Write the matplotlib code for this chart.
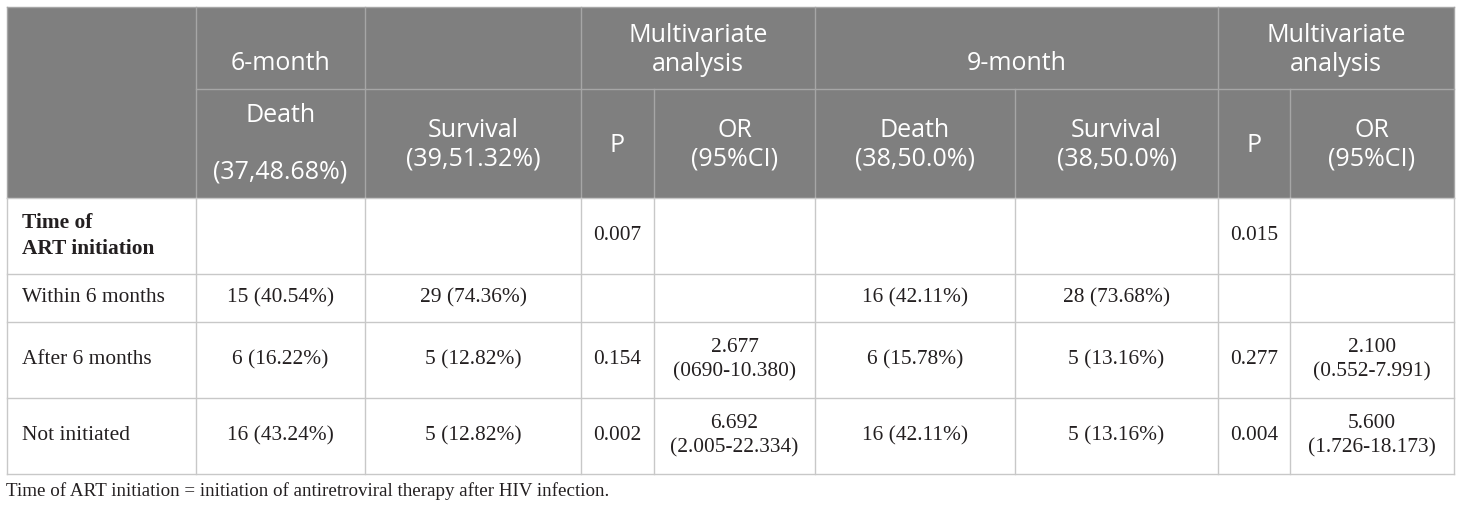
import matplotlib
matplotlib.use("Agg")
import matplotlib.pyplot as plt
from matplotlib.patches import Rectangle

# column edges (px) and row edges (px)
col_x = [7, 196, 365, 581, 654, 815, 1015, 1218, 1290, 1454]
row_y = [7, 89, 198, 274, 322, 398, 474]

row_labels = ["Time of\nART initiation", "Within 6 months", "After 6 months", "Not initiated"]
death_6 = ["", "15 (40.54%)", "6 (16.22%)", "16 (43.24%)"]
surv_6 = ["", "29 (74.36%)", "5 (12.82%)", "5 (12.82%)"]
p_6 = ["0.007", "", "0.154", "0.002"]
or_6 = ["", "", "2.677\n(0690-10.380)", "6.692\n(2.005-22.334)"]
death_9 = ["", "16 (42.11%)", "6 (15.78%)", "16 (42.11%)"]
surv_9 = ["", "28 (73.68%)", "5 (13.16%)", "5 (13.16%)"]
p_9 = ["0.015", "", "0.277", "0.004"]
or_9 = ["", "", "2.100\n(0.552-7.991)", "5.600\n(1.726-18.173)"]
footnote = "Time of ART initiation = initiation of antiretroviral therapy after HIV infection."

head_bg = "#7f7f7f"
head_line = "#a6a6a6"
body_line = "#c8c8c8"
head_font = dict(family=["Open Sans", "DejaVu Sans"], fontsize=18, color="white",
                 linespacing=1.18)
body_font = dict(family=["Liberation Serif", "DejaVu Serif"], fontsize=15.4, color="#231f20",
                 linespacing=1.4)

fig = plt.figure(figsize=(14.6, 5.11), dpi=100)
ax = fig.add_axes([0, 0, 1, 1])
ax.set_xlim(0, 1460)
ax.set_ylim(511, 0)
ax.axis("off")

# header background
ax.add_patch(Rectangle((col_x[0], row_y[0]), col_x[-1] - col_x[0], row_y[2] - row_y[0],
                       facecolor=head_bg, edgecolor="none"))

# header grid
ax.plot([col_x[0], col_x[-1]], [row_y[0], row_y[0]], color=head_line, lw=1)
ax.plot([col_x[1], col_x[-1]], [row_y[1], row_y[1]], color=head_line, lw=1)
for i, x in enumerate(col_x):
    if i in (4, 6, 8):
        ax.plot([x, x], [row_y[1], row_y[2]], color=head_line, lw=1)
    else:
        ax.plot([x, x], [row_y[0], row_y[2]], color=head_line, lw=1)

# body grid
for y in row_y[2:]:
    ax.plot([col_x[0], col_x[-1]], [y, y], color=body_line, lw=1)
for x in col_x:
    ax.plot([x, x], [row_y[2], row_y[-1]], color=body_line, lw=1)

def mid(a, b):
    return (a + b) / 2

# header texts
ax.text(mid(col_x[1], col_x[2]), 63, "6-month", ha="center", va="center", **head_font)
ax.text(mid(col_x[3], col_x[5]), 50, "Multivariate\nanalysis", ha="center", va="center", **head_font)
ax.text(mid(col_x[5], col_x[7]), 63, "9-month", ha="center", va="center", **head_font)
ax.text(mid(col_x[7], col_x[9]), 50, "Multivariate\nanalysis", ha="center", va="center", **head_font)

ax.text(mid(col_x[1], col_x[2]), 116, "Death", ha="center", va="center", **head_font)
ax.text(mid(col_x[1], col_x[2]), 172, "(37,48.68%)", ha="center", va="center", **head_font)
sub_heads = [(2, "Survival\n(39,51.32%)"), (3, "P"), (4, "OR\n(95%CI)"),
             (5, "Death\n(38,50.0%)"), (6, "Survival\n(38,50.0%)"), (7, "P"), (8, "OR\n(95%CI)")]
for c, t in sub_heads:
    ax.text(mid(col_x[c], col_x[c + 1]), 145, t, ha="center", va="center", **head_font)

# body texts
columns = [death_6, surv_6, p_6, or_6, death_9, surv_9, p_9, or_9]
for r, lab in enumerate(row_labels):
    yc = mid(row_y[r + 2], row_y[r + 3])
    ax.text(22, yc, lab, ha="left", va="center",
            fontweight="bold" if r == 0 else "normal", **body_font)
    for c, vals in enumerate(columns):
        if vals[r]:
            ax.text(mid(col_x[c + 1], col_x[c + 2]), yc, vals[r], ha="center", va="center",
                    **body_font)

ax.text(6, 491, footnote, ha="left", va="center", **{**body_font, "fontsize": 13.7})

fig.savefig("out.png", dpi=100)
